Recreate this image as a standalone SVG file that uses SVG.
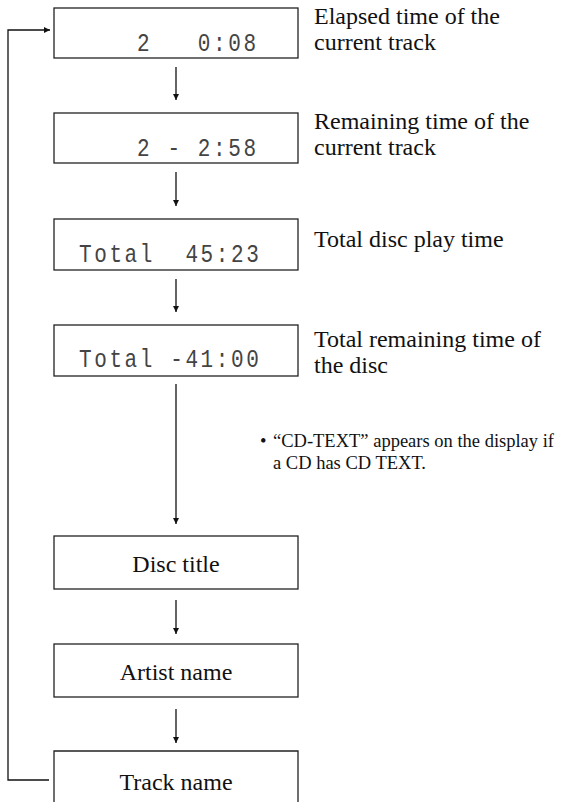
<svg xmlns="http://www.w3.org/2000/svg" width="561" height="802" viewBox="0 0 561 802">
<style>
.box{fill:#fff;stroke:#222;stroke-width:1.3}
.lcd{font-family:"Liberation Mono","DejaVu Sans Mono",monospace;font-size:21px;letter-spacing:2.6px;fill:#444}
.lbl{font-family:"Liberation Serif","Times New Roman",serif;font-size:24px;fill:#111}
.note{font-family:"Liberation Serif","Times New Roman",serif;font-size:18.5px;fill:#111}
.name{font-family:"Liberation Serif","Times New Roman",serif;font-size:24px;fill:#111;text-anchor:middle}
.conn{fill:none;stroke:#111;stroke-width:1.3}
</style>
<defs>
<marker id="ah" viewBox="0 0 10 10" refX="10" refY="5" markerWidth="6" markerHeight="7" orient="auto" markerUnits="userSpaceOnUse">
<path d="M0,0 L10,5 L0,10 z" fill="#111"/>
</marker>
</defs>
<g id="connectors">
<line class="conn" x1="176" y1="67" x2="176" y2="100" marker-end="url(#ah)"/>
<line class="conn" x1="176" y1="172" x2="176" y2="206" marker-end="url(#ah)"/>
<line class="conn" x1="176" y1="279" x2="176" y2="312" marker-end="url(#ah)"/>
<line class="conn" x1="176" y1="384" x2="176" y2="524" marker-end="url(#ah)"/>
<line class="conn" x1="176" y1="600" x2="176" y2="634" marker-end="url(#ah)"/>
<line class="conn" x1="176" y1="709" x2="176" y2="743" marker-end="url(#ah)"/>
<polyline class="conn" points="49,780 8,780 8,30 50,30" marker-end="url(#ah)"/>
</g>
<g id="n1">
<rect class="box" x="54" y="8" width="244" height="50"/>
<text class="lcd" transform="translate(137,51) scale(1,1.25)" xml:space="preserve">2   0:08</text>
<text class="lbl" x="314" y="24">Elapsed time of the</text>
<text class="lbl" x="314" y="50">current track</text>
</g>
<g id="n2">
<rect class="box" x="54" y="113" width="244" height="50"/>
<text class="lcd" transform="translate(137,156) scale(1,1.25)" xml:space="preserve">2 - 2:58</text>
<text class="lbl" x="314" y="129">Remaining time of the</text>
<text class="lbl" x="314" y="155">current track</text>
</g>
<g id="n3">
<rect class="box" x="54" y="219" width="244" height="51"/>
<text class="lcd" transform="translate(79,262) scale(1,1.25)" xml:space="preserve">Total  45:23</text>
<text class="lbl" x="314" y="247">Total disc play time</text>
</g>
<g id="n4">
<rect class="box" x="54" y="325" width="244" height="51"/>
<text class="lcd" transform="translate(79,367) scale(1,1.25)" xml:space="preserve">Total -41:00</text>
<text class="lbl" x="314" y="347">Total remaining time of</text>
<text class="lbl" x="314" y="373">the disc</text>
</g>
<g id="note">
<text class="note" x="260" y="447">•</text>
<text class="note" x="273" y="447">“CD-TEXT” appears on the display if</text>
<text class="note" x="273" y="469">a CD has CD TEXT.</text>
</g>
<g id="n5">
<rect class="box" x="54" y="536" width="244" height="53"/>
<text class="name" x="176" y="572">Disc title</text>
</g>
<g id="n6">
<rect class="box" x="54" y="644" width="244" height="53"/>
<text class="name" x="176" y="680">Artist name</text>
</g>
<g id="n7">
<path class="box" d="M54,803 L54,751 L298,751 L298,803"/>
<text class="name" x="176" y="790">Track name</text>
</g>
</svg>
